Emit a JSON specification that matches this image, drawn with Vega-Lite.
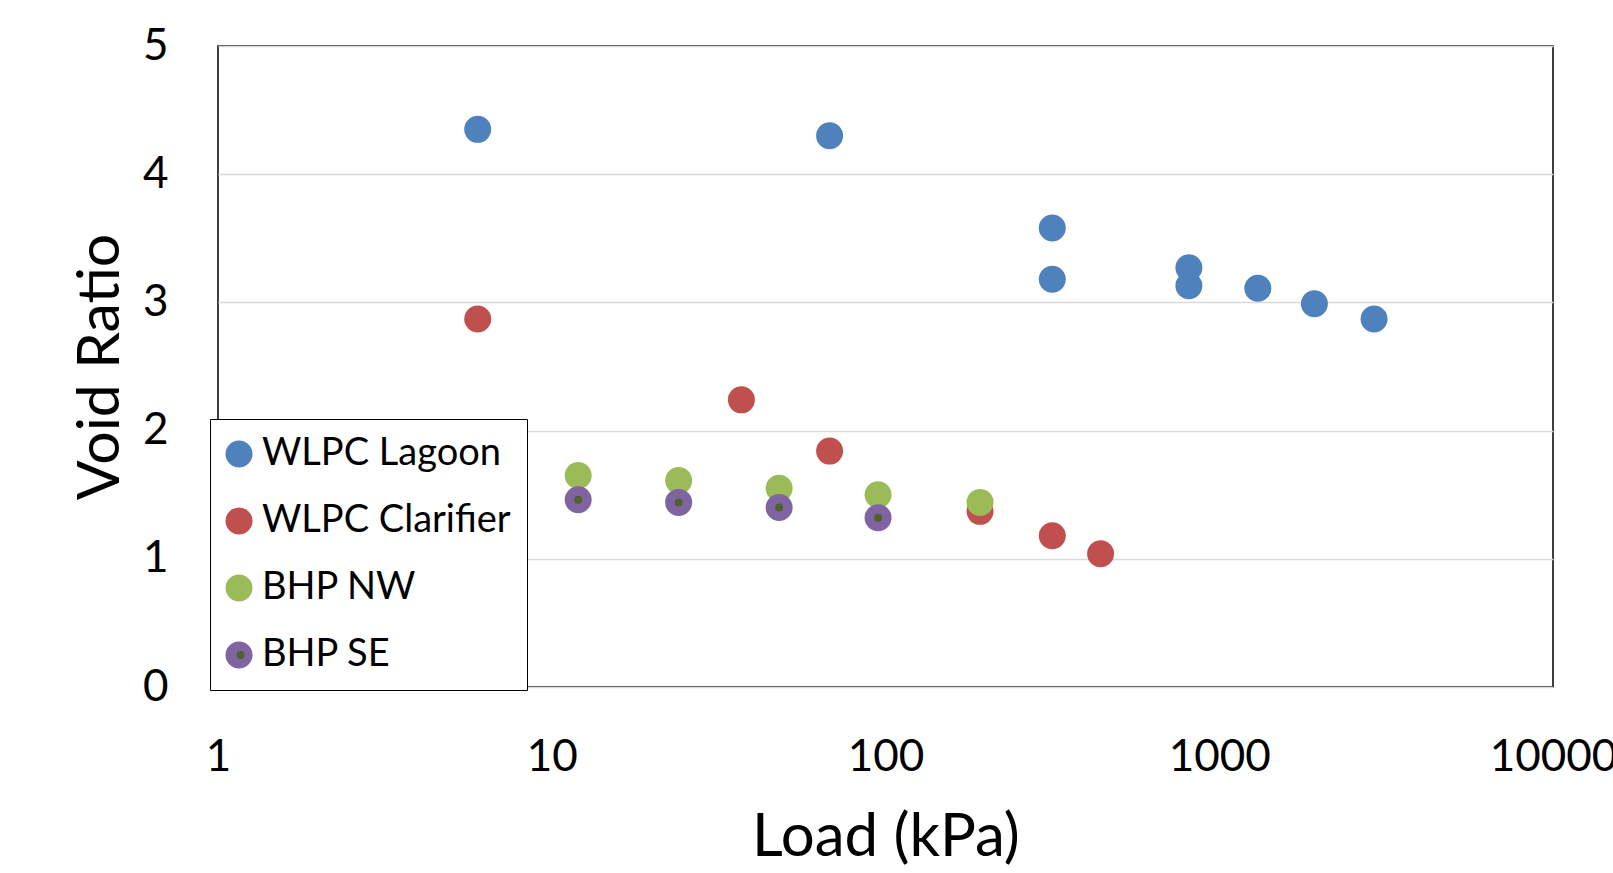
{
  "$schema": "https://vega.github.io/schema/vega-lite/v6.json",
  "autosize": {"type": "none"},
  "width": 1335,
  "height": 641,
  "padding": {"left": 218, "top": 46, "right": 60, "bottom": 186},
  "background": "white",
  "config": {
    "font": "Lato",
    "view": {"stroke": "black", "strokeWidth": 1.5},
    "axis": {"labelFont": "Lato", "titleFont": "Lato", "labelColor": "black", "titleColor": "black", "titleFontWeight": "normal"}
  },
  "data": {
    "values": [
      {"series": "WLPC Lagoon", "load": 6, "e": 4.35},
      {"series": "WLPC Lagoon", "load": 68, "e": 4.3},
      {"series": "WLPC Lagoon", "load": 316, "e": 3.58},
      {"series": "WLPC Lagoon", "load": 316, "e": 3.18},
      {"series": "WLPC Lagoon", "load": 811, "e": 3.27},
      {"series": "WLPC Lagoon", "load": 811, "e": 3.13},
      {"series": "WLPC Lagoon", "load": 1305, "e": 3.11},
      {"series": "WLPC Lagoon", "load": 1928, "e": 2.99},
      {"series": "WLPC Lagoon", "load": 2910, "e": 2.87},
      {"series": "WLPC Clarifier", "load": 6, "e": 2.87},
      {"series": "WLPC Clarifier", "load": 37, "e": 2.24},
      {"series": "WLPC Clarifier", "load": 68, "e": 1.84},
      {"series": "WLPC Clarifier", "load": 192, "e": 1.37},
      {"series": "WLPC Clarifier", "load": 316, "e": 1.18},
      {"series": "WLPC Clarifier", "load": 441, "e": 1.04},
      {"series": "BHP NW", "load": 12, "e": 1.65},
      {"series": "BHP NW", "load": 24, "e": 1.61},
      {"series": "BHP NW", "load": 48, "e": 1.55},
      {"series": "BHP NW", "load": 95, "e": 1.5},
      {"series": "BHP NW", "load": 192, "e": 1.44},
      {"series": "BHP SE", "load": 12, "e": 1.46},
      {"series": "BHP SE", "load": 24, "e": 1.44},
      {"series": "BHP SE", "load": 48, "e": 1.4},
      {"series": "BHP SE", "load": 95, "e": 1.32}
    ]
  },
  "encoding": {
    "x": {
      "field": "load", "type": "quantitative",
      "scale": {"type": "log", "domain": [1, 10000], "nice": false},
      "axis": {"title": "Load (kPa)", "values": [1, 10, 100, 1000, 10000], "format": "d", "grid": false, "ticks": false, "domain": false,
        "labelFontSize": 44, "labelPadding": 48, "labelFlush": false, "titleFontSize": 60, "titlePadding": 29}
    },
    "y": {
      "field": "e", "type": "quantitative",
      "scale": {"domain": [0, 5], "nice": false, "zero": true},
      "axis": {"title": "Void Ratio", "values": [0, 1, 2, 3, 4, 5], "grid": true, "gridColor": "#D9D9D9", "gridWidth": 1.5, "ticks": false, "domain": false,
        "labelFontSize": 44, "labelPadding": 50, "titleFontSize": 59, "titlePadding": 12}
    }
  },
  "layer": [
    {
      "mark": {"type": "point", "filled": true, "shape": "circle", "size": 729, "opacity": 1},
      "encoding": {
        "color": {
          "field": "series", "type": "nominal",
          "scale": {"domain": ["WLPC Lagoon", "WLPC Clarifier", "BHP NW", "BHP SE"], "range": ["#4F81BD", "#C0504D", "#9BBB59", "#8064A2"]},
          "legend": {"title": null, "orient": "none", "legendX": -8, "legendY": 373, "direction": "vertical",
            "strokeColor": "black", "fillColor": "white", "padding": 16,
            "symbolType": "circle", "symbolSize": 729, "symbolStrokeWidth": 0, "symbolOpacity": 1, "symbolOffset": -6,
            "labelFont": "Lato", "labelFontSize": 38, "labelColor": "black", "labelOffset": 4, "rowPadding": 29, "labelLimit": 400}
        }
      }
    },
    {
      "transform": [{"filter": "datum.series === 'BHP SE'"}],
      "mark": {"type": "point", "filled": true, "shape": "circle", "size": 64, "opacity": 1},
      "encoding": {
        "color": {
          "field": "series", "type": "nominal",
          "scale": {"domain": ["WLPC Lagoon", "WLPC Clarifier", "BHP NW", "BHP SE"], "range": ["rgba(0,0,0,0)", "rgba(0,0,0,0)", "rgba(0,0,0,0)", "#4F6228"]},
          "legend": {"title": null, "orient": "none", "legendX": -8, "legendY": 373, "direction": "vertical",
            "padding": 16,
            "symbolType": "circle", "symbolSize": 64, "symbolStrokeWidth": 0, "symbolOpacity": 1, "symbolOffset": -4.5,
            "labelFont": "Lato", "labelFontSize": 38, "labelColor": "black", "labelOpacity": 0, "labelOffset": 4, "rowPadding": 29, "labelLimit": 400}
        }
      }
    }
  ],
  "resolve": {"scale": {"color": "independent"}, "legend": {"color": "independent"}}
}
